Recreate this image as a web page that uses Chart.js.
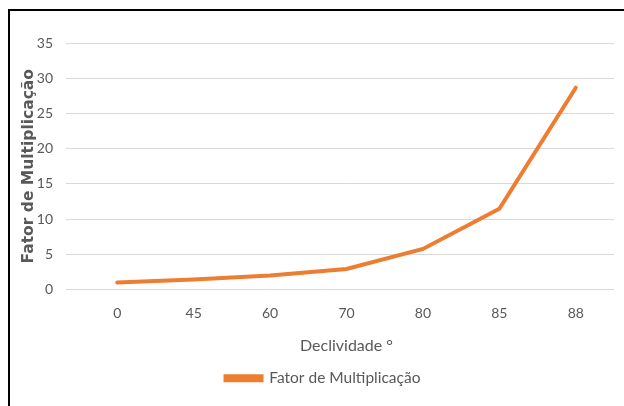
<!DOCTYPE html>
<html>
<head>
<meta charset="utf-8">
<script src="https://cdn.jsdelivr.net/npm/chart.js@4.4.0/dist/chart.umd.min.js"></script>
<style>
  html, body { margin: 0; padding: 0; background: #fff; }
  #wrap { position: relative; width: 624px; height: 406px; overflow: hidden; }
  #frame { position: absolute; left: 8px; top: 9px; width: 640px; height: 420px;
           border-left: 2px solid #000; border-top: 2px solid #000; }
  canvas { position: absolute; left: 0; top: 0; }
</style>
</head>
<body>
<div id="wrap">
  <canvas id="chart" width="624" height="406"></canvas>
  <div id="frame"></div>
</div>
<script>
// slope angles (degrees) and the multiplication factor
const categories = ['0', '45', '60', '70', '80', '85', '88'];
const factorValues = [1.0, 1.41, 2.0, 2.92, 5.76, 11.47, 28.65];
const yTicks = [0, 5, 10, 15, 20, 25, 30, 35];

const seriesName = 'Fator de Multiplicação';
const xTitle = 'Declividade °';
const yTitle = 'Fator de Multiplicação';

const FONT = 'Lato, "Open Sans", sans-serif';
const GREY = '#595959';
const GRID = '#d9d9d9';

const ctx = document.getElementById('chart');

new Chart(ctx, {
  type: 'line',
  data: {
    labels: categories,
    datasets: [{
      label: seriesName,
      data: factorValues,
      borderColor: '#ED7D31',
      backgroundColor: '#ED7D31',
      borderWidth: 4,
      pointRadius: 0,
      tension: 0,
      borderCapStyle: 'round'
    }]
  },
  options: {
    responsive: false,
    animation: false,
    // extra left padding pushes the legend right; the y axis is narrowed to compensate
    layout: { padding: { left: 32, right: 10, top: 43, bottom: 10 } },
    plugins: {
      legend: {
        position: 'bottom',
        labels: {
          color: GREY,
          font: { family: FONT, size: 15.5 },
          boxWidth: 36,
          boxHeight: 4,
          padding: 11
        }
      },
      tooltip: { enabled: false }
    },
    scales: {
      x: {
        offset: true,
        grid: { display: false },
        border: { display: false },
        ticks: { color: GREY, font: { family: FONT, size: 14 }, padding: 8 },
        title: { display: true, text: xTitle, color: GREY, font: { family: FONT, size: 16 }, padding: { top: 6 } }
      },
      y: {
        min: 0,
        max: 35,
        afterBuildTicks: axis => { axis.ticks = yTicks.map(v => ({ value: v })); },
        afterFit: axis => { axis.width = 47; },
        grid: { color: GRID, lineWidth: 1, drawTicks: true, tickLength: 13, tickColor: GRID },
        border: { display: false },
        ticks: { color: GREY, font: { family: FONT, size: 14 }, padding: 13 },
        title: { display: true, text: yTitle, color: GREY, font: { family: '"DejaVu Sans", sans-serif', size: 15.5, weight: 'bold' }, padding: { top: -12, bottom: 0 } }
      }
    }
  }
});
</script>
</body>
</html>
